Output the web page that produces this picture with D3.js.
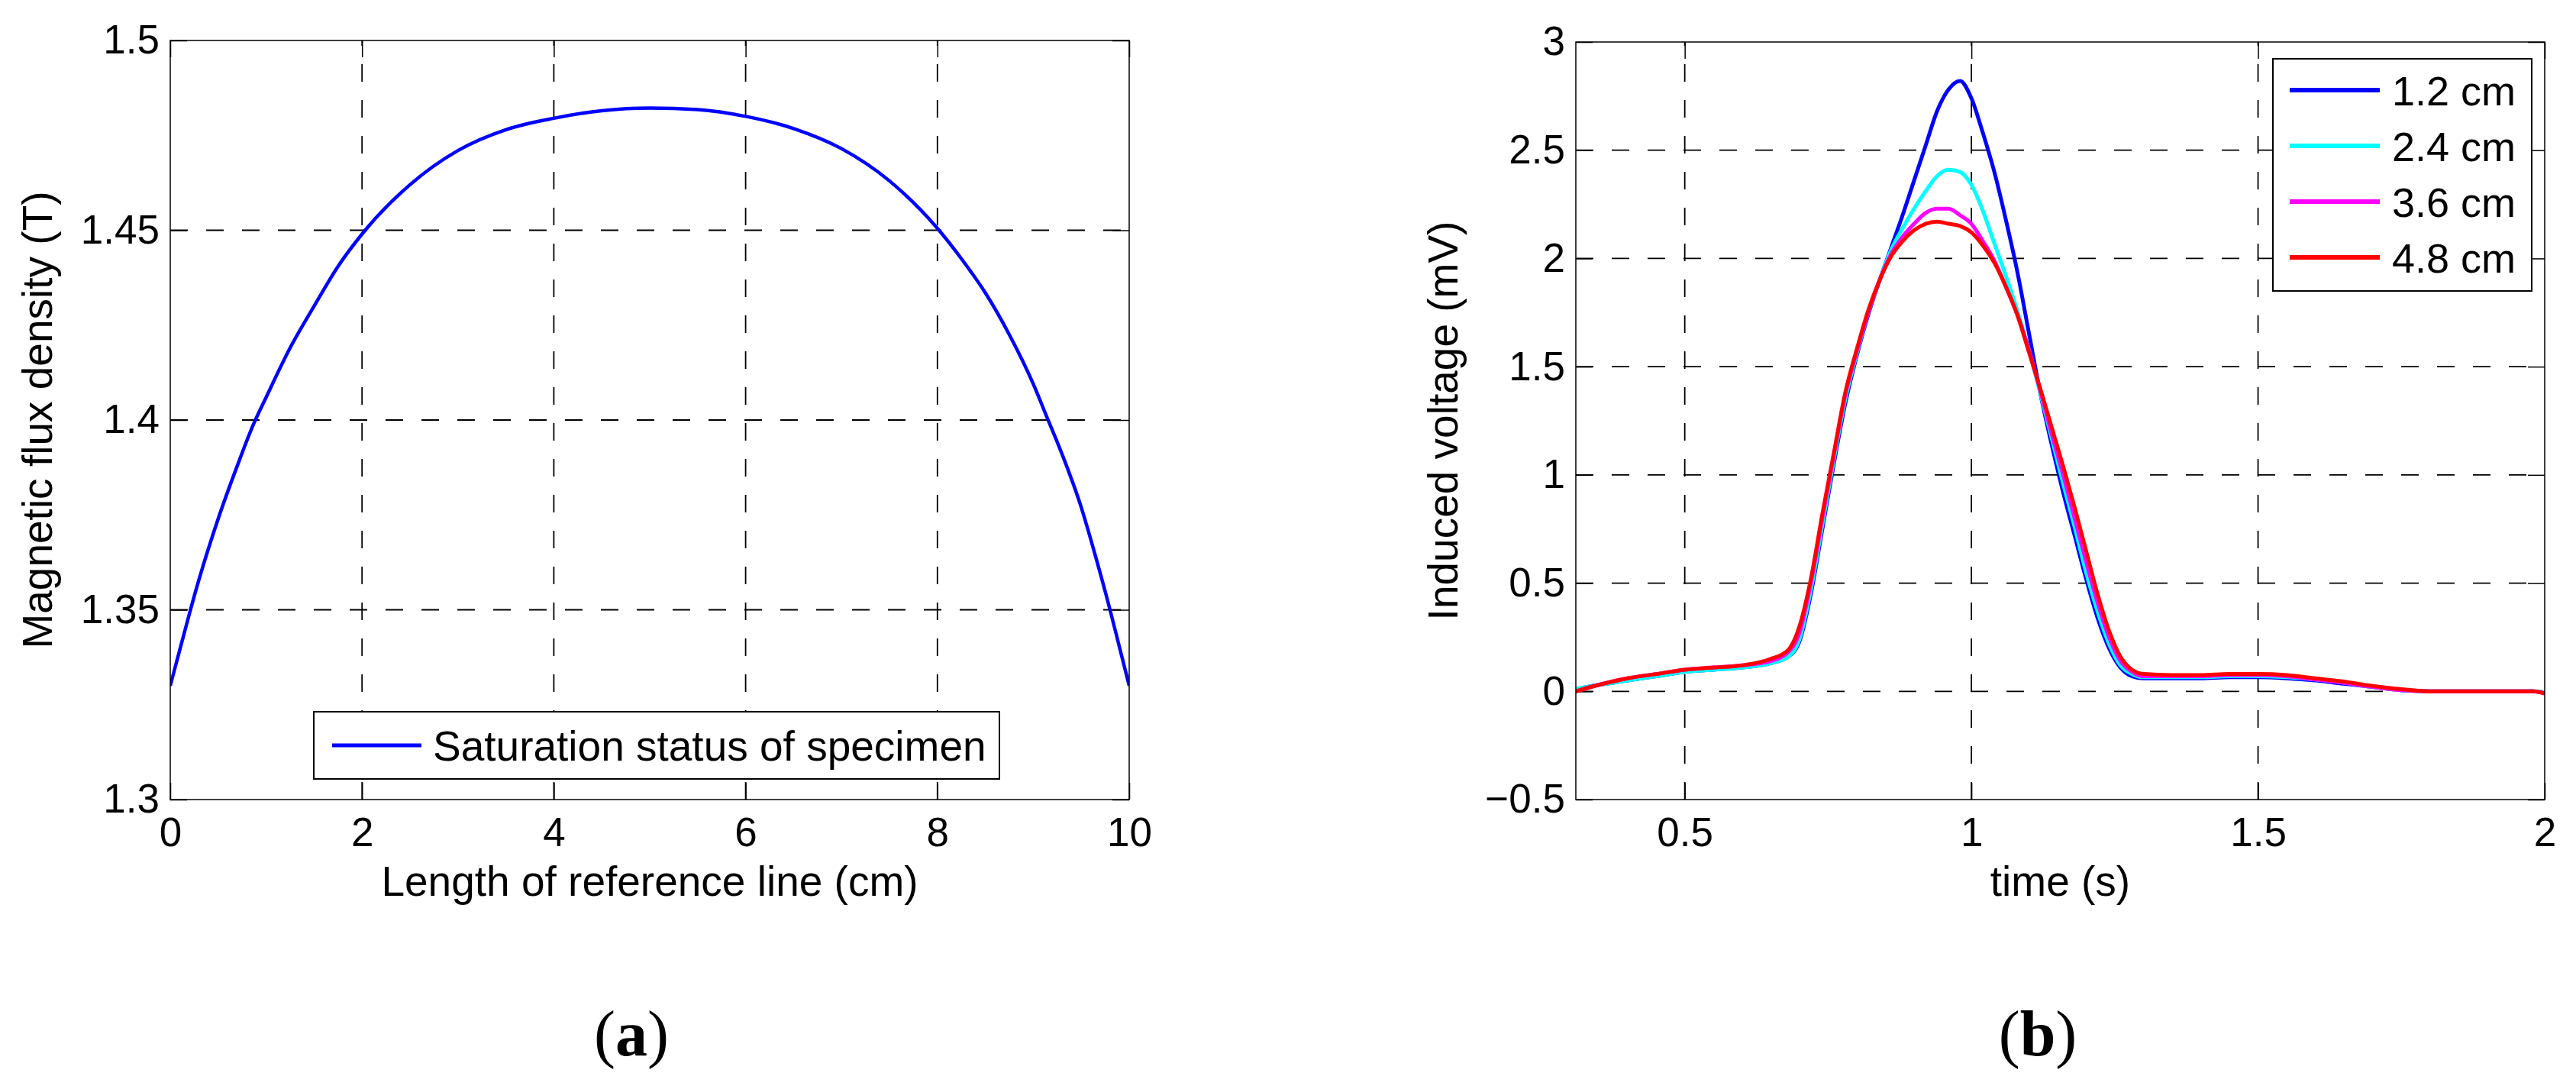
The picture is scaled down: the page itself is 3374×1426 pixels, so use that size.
<!DOCTYPE html>
<html>
<head>
<meta charset="utf-8">
<script src="https://cdn.jsdelivr.net/npm/d3@7"></script>
<style>
  html, body { margin: 0; padding: 0; background: #fff; }
  svg { display: block; }
  text { font-family: "Liberation Sans", Arial, sans-serif; fill: #000; }
</style>
</head>
<body>
<svg id="chart" width="3374" height="1426"></svg>
<script>
// ---------- Data: panel (a) ----------
const lengthA = [0,0.1,0.2,0.3,0.5,0.7,0.87,1.0,1.25,1.5,1.75,2.0,2.5,3.0,3.5,4.0,4.5,5.0,5.5,6.0,6.5,7.0,7.5,8.0,8.25,8.5,8.75,9.0,9.13,9.3,9.5,9.65,9.8,9.9,10];
const fluxA = [1.330,1.3395,1.349,1.358,1.374,1.388,1.399,1.406,1.419,1.430,1.4405,1.449,1.462,1.4710,1.4765,1.4795,1.4815,1.4822,1.4818,1.4800,1.4768,1.4715,1.4630,1.4505,1.4425,1.4335,1.4225,1.4095,1.4015,1.391,1.377,1.364,1.350,1.340,1.330];
const xTicksA = [0,2,4,6,8,10];
const xTickLabelsA = ["0","2","4","6","8","10"];
const yTicksA = [1.3,1.35,1.4,1.45,1.5];
const yTickLabelsA = ["1.3","1.35","1.4","1.45","1.5"];
const legendA = ["Saturation status of specimen"];

// ---------- Data: panel (b) ----------
const timeB = [0.31,0.35,0.40,0.45,0.50,0.55,0.60,0.65,0.68,0.70,0.72,0.74,0.76,0.78,0.80,0.82,0.84,0.86,0.88,0.90,0.92,0.94,0.96,0.98,1.00,1.02,1.04,1.06,1.08,1.10,1.12,1.14,1.16,1.18,1.20,1.22,1.24,1.26,1.28,1.30,1.35,1.40,1.45,1.50,1.55,1.60,1.65,1.70,1.75,1.80,1.85,1.90,1.95,1.98,2.00];
const v12 = [0.01,0.03,0.05,0.07,0.09,0.10,0.11,0.13,0.16,0.23,0.45,0.75,1.05,1.33,1.55,1.74,1.90,2.05,2.20,2.36,2.52,2.68,2.78,2.82,2.74,2.58,2.40,2.18,1.94,1.66,1.38,1.14,0.92,0.72,0.52,0.34,0.20,0.11,0.07,0.06,0.06,0.06,0.065,0.065,0.06,0.05,0.035,0.02,0.005,0.0,0.0,0.0,0.0,0.0,-0.005];
const v24 = [0.01,0.03,0.05,0.07,0.09,0.10,0.11,0.13,0.16,0.24,0.47,0.77,1.07,1.35,1.56,1.75,1.90,2.04,2.14,2.23,2.31,2.38,2.41,2.40,2.34,2.22,2.07,1.92,1.76,1.58,1.38,1.17,0.96,0.76,0.55,0.37,0.22,0.12,0.08,0.065,0.065,0.065,0.07,0.07,0.065,0.055,0.04,0.02,0.005,0.0,0.0,0.0,0.0,0.0,-0.005];
const v36 = [0.0,0.03,0.06,0.08,0.10,0.11,0.12,0.14,0.18,0.27,0.50,0.80,1.09,1.37,1.57,1.75,1.90,2.02,2.10,2.16,2.21,2.23,2.23,2.20,2.16,2.08,1.99,1.87,1.74,1.58,1.39,1.19,1.00,0.80,0.60,0.41,0.25,0.14,0.09,0.07,0.07,0.07,0.075,0.075,0.07,0.055,0.04,0.02,0.005,0.0,0.0,0.0,0.0,0.0,-0.01];
const v48 = [0.0,0.03,0.06,0.08,0.10,0.11,0.12,0.15,0.19,0.30,0.52,0.82,1.10,1.38,1.58,1.76,1.90,2.01,2.08,2.13,2.16,2.17,2.16,2.15,2.12,2.06,1.98,1.87,1.74,1.57,1.40,1.22,1.04,0.85,0.65,0.45,0.28,0.16,0.10,0.08,0.075,0.075,0.08,0.08,0.075,0.06,0.045,0.025,0.01,0.0,0.0,0.0,0.0,0.0,-0.01];
const seriesNamesB = ["1.2 cm","2.4 cm","3.6 cm","4.8 cm"];
const seriesColorsB = ["#0000ff","#00ffff","#ff00ff","#ff0000"];
const seriesValuesB = [v12, v24, v36, v48];
const xTicksB = [0.5,1,1.5,2];
const xTickLabelsB = ["0.5","1","1.5","2"];
const yTicksB = [-0.5,0,0.5,1,1.5,2,2.5,3];
const yTickLabelsB = ["\u22120.5","0","0.5","1","1.5","2","2.5","3"];

const svg = d3.select("#chart");

function panel(cfg) {
  const g = svg.append("g");
  const x = d3.scaleLinear().domain(cfg.xDomain).range([cfg.left, cfg.right]);
  const y = d3.scaleLinear().domain(cfg.yDomain).range([cfg.bottom, cfg.top]);
  const W = cfg.right - cfg.left, H = cfg.bottom - cfg.top;

  // grid
  const grid = g.append("g").attr("stroke", "#000").attr("stroke-width", 1.8)
    .attr("stroke-dasharray", "23,24").attr("fill", "none");
  cfg.xTicks.filter(v => x(v) > cfg.left + 2 && x(v) < cfg.right - 2).forEach(v => {
    grid.append("line").attr("x1", x(v)).attr("x2", x(v)).attr("y1", cfg.bottom).attr("y2", cfg.top);
  });
  cfg.yTicks.filter(v => y(v) > cfg.top + 2 && y(v) < cfg.bottom - 2).forEach(v => {
    grid.append("line").attr("y1", y(v)).attr("y2", y(v)).attr("x1", cfg.left).attr("x2", cfg.right);
  });

  // axes with inward ticks
  const fmtX = d => cfg.xTickLabels[cfg.xTicks.indexOf(d)];
  const fmtY = d => cfg.yTickLabels[cfg.yTicks.indexOf(d)];
  const ax = [
    g.append("g").attr("transform", `translate(0,${cfg.bottom})`)
      .call(d3.axisBottom(x).tickValues(cfg.xTicks).tickFormat(fmtX).tickSizeInner(-22).tickSizeOuter(0).tickPadding(23)),
    g.append("g").attr("transform", `translate(${cfg.left},0)`)
      .call(d3.axisLeft(y).tickValues(cfg.yTicks).tickFormat(fmtY).tickSizeInner(-22).tickSizeOuter(0).tickPadding(14)),
    g.append("g").attr("transform", `translate(0,${cfg.top})`)
      .call(d3.axisTop(x).tickValues(cfg.xTicks).tickFormat("").tickSizeInner(-22).tickSizeOuter(0)),
    g.append("g").attr("transform", `translate(${cfg.right},0)`)
      .call(d3.axisRight(y).tickValues(cfg.yTicks).tickFormat("").tickSizeInner(-22).tickSizeOuter(0))
  ];
  ax.forEach(a => {
    a.select(".domain").remove();
    a.selectAll("line").attr("stroke", "#000").attr("stroke-width", 1.5);
    a.selectAll("text").attr("font-size", 53).attr("font-family", "Liberation Sans, Arial, sans-serif").attr("fill", "#000");
  });

  // lines
  const clip = "clip" + cfg.id;
  svg.append("clipPath").attr("id", clip).append("rect")
    .attr("x", cfg.left).attr("y", cfg.top - 4).attr("width", W).attr("height", H + 8);
  const lineGen = d3.line().x(d => x(d[0])).y(d => y(d[1])).curve(d3.curveMonotoneX);
  cfg.series.forEach(s => {
    g.append("path").datum(cfg.xs.map((t, i) => [t, s.values[i]]))
      .attr("d", lineGen).attr("fill", "none").attr("stroke", s.color)
      .attr("stroke-width", cfg.lineWidth).attr("stroke-linejoin", "round")
      .attr("clip-path", `url(#${clip})`);
  });

  // frame
  g.append("rect").attr("x", cfg.left).attr("y", cfg.top).attr("width", W).attr("height", H)
    .attr("fill", "none").attr("stroke", "#000").attr("stroke-width", 1.5);

  // axis titles
  g.append("text").attr("x", (cfg.left + cfg.right) / 2).attr("y", 1173)
    .attr("text-anchor", "middle").attr("font-size", 55).text(cfg.xLabel);
  g.append("text").attr("transform", `translate(${cfg.left - 155},${(cfg.top + cfg.bottom) / 2}) rotate(-90)`)
    .attr("text-anchor", "middle").attr("font-size", 55).text(cfg.yLabel);

  // legend
  const L = cfg.legend;
  const lg = g.append("g");
  lg.append("rect").attr("x", L.x0).attr("y", L.y0).attr("width", L.x1 - L.x0).attr("height", L.y1 - L.y0)
    .attr("fill", "#fff").attr("stroke", "#000").attr("stroke-width", 2);
  cfg.series.forEach((s, i) => {
    const yy = L.rowY + i * L.rowGap;
    lg.append("line").attr("x1", L.lx0).attr("x2", L.lx1).attr("y1", yy).attr("y2", yy)
      .attr("stroke", s.color).attr("stroke-width", L.lw);
    lg.append("text").attr("x", L.tx).attr("y", yy + L.baseOff).attr("font-size", L.fs).text(s.name);
  });

  // panel letter
  const pl = g.append("text").attr("x", cfg.letterX).attr("y", 1382).attr("text-anchor", "middle")
    .attr("font-size", 84).style("font-family", "Liberation Serif, 'Times New Roman', serif");
  pl.append("tspan").text("(");
  pl.append("tspan").attr("font-weight", "bold").text(cfg.letter);
  pl.append("tspan").text(")");
}

panel({
  id: "a", left: 223, right: 1479, top: 53, bottom: 1047,
  xDomain: [0, 10], yDomain: [1.3, 1.5],
  xTicks: xTicksA, xTickLabels: xTickLabelsA, yTicks: yTicksA, yTickLabels: yTickLabelsA,
  xs: lengthA,
  series: [{ name: legendA[0], color: "#0000ff", values: fluxA }],
  lineWidth: 4.5,
  xLabel: "Length of reference line (cm)", yLabel: "Magnetic flux density (T)",
  legend: { x0: 411, x1: 1309, y0: 932, y1: 1020, lx0: 435, lx1: 552, rowY: 976, rowGap: 0, lw: 5, tx: 567, baseOff: 20, fs: 55 },
  letter: "a", letterX: 827
});

panel({
  id: "b", left: 2064, right: 3333, top: 55, bottom: 1047,
  xDomain: [0.31, 2], yDomain: [-0.5, 3],
  xTicks: xTicksB, xTickLabels: xTickLabelsB, yTicks: yTicksB, yTickLabels: yTickLabelsB,
  xs: timeB,
  series: seriesNamesB.map((n, i) => ({ name: n, color: seriesColorsB[i], values: seriesValuesB[i] })),
  lineWidth: 5,
  xLabel: "time (s)", yLabel: "Induced voltage (mV)",
  legend: { x0: 2977, x1: 3316, y0: 77, y1: 381, lx0: 2999, lx1: 3117, rowY: 118, rowGap: 73, lw: 6, tx: 3133, baseOff: 20, fs: 54 },
  letter: "b", letterX: 2669
});
</script>
</body>
</html>
